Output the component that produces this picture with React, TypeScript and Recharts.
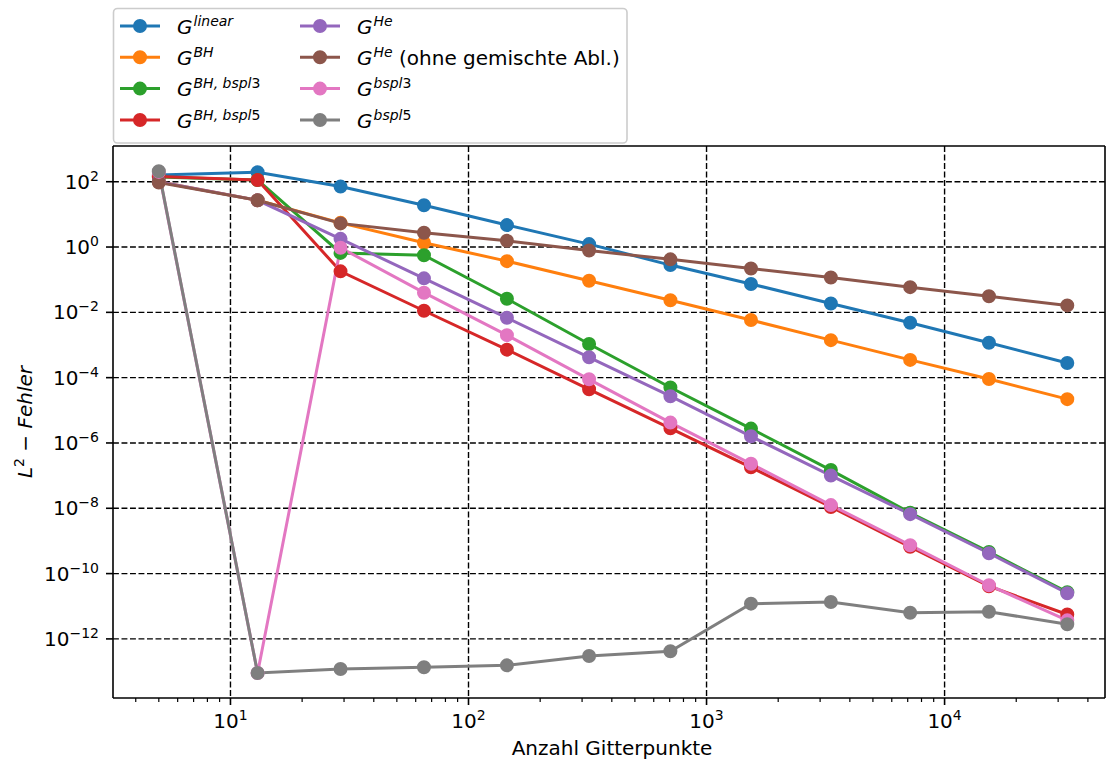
import React from 'react';
import { LineChart, Line, XAxis, YAxis, CartesianGrid } from 'recharts';

// ---------- data ----------
const gridPoints = [5, 13, 29, 65, 145, 321, 705, 1537, 3329, 7169, 15361, 32769];

const gLinear = [160, 195, 71, 19, 4.7, 1.23, 0.28, 0.074, 0.0186, 0.0048, 0.00117, 0.00028];
const gBH = [100, 27, 5.5, 1.35, 0.37, 0.093, 0.0234, 0.0058, 0.00141, 0.00035, 9.1e-5, 2.2e-5];
const gBHbspl3 = [140, 113, 0.66, 0.56, 0.026, 1.07e-3, 5.0e-5, 2.75e-6, 1.48e-7, 7.3e-9, 4.6e-10, 2.7e-11];
const gBHbspl5 = [145, 113, 0.18, 0.0112, 7.2e-4, 4.4e-5, 2.8e-6, 1.8e-7, 1.1e-8, 6.6e-10, 4.1e-11, 5.6e-12];
const gHe = [100, 27, 1.78, 0.11, 6.8e-3, 4.2e-4, 2.7e-5, 1.6e-6, 1.0e-7, 6.6e-9, 4.2e-10, 2.5e-11];
const gHeOhne = [95, 27, 5.3, 2.75, 1.55, 0.78, 0.42, 0.22, 0.117, 0.059, 0.031, 0.0163];
const gBspl3 = [200, 9e-14, 0.95, 0.04, 2.0e-3, 8.9e-5, 4.2e-6, 2.3e-7, 1.25e-8, 7.4e-10, 4.4e-11, 3.7e-12];
const gBspl5 = [210, 9e-14, 1.2e-13, 1.35e-13, 1.55e-13, 3.0e-13, 4.2e-13, 1.2e-11, 1.35e-11, 6.3e-12, 6.8e-12, 2.8e-12];

const seriesKeys = ['linear', 'bh', 'bhb3', 'bhb5', 'he', 'heOhne', 'bspl3', 'bspl5'];
const seriesValues = [gLinear, gBH, gBHbspl3, gBHbspl5, gHe, gHeOhne, gBspl3, gBspl5];
const legendSup = ['linear', 'BH', 'BH, bspl3', 'BH, bspl5', 'He', 'He', 'bspl3', 'bspl5'];
const legendSuffix = ['', '', '', '', '', ' (ohne gemischte Abl.)', '', ''];
const seriesColors = ['#1f77b4', '#ff7f0e', '#2ca02c', '#d62728', '#9467bd', '#8c564b', '#e377c2', '#7f7f7f'];

const xMajorTicks = [10, 100, 1000, 10000];
const xMinorTicks = [
  4, 5, 6, 7, 8, 9,
  20, 30, 40, 50, 60, 70, 80, 90,
  200, 300, 400, 500, 600, 700, 800, 900,
  2000, 3000, 4000, 5000, 6000, 7000, 8000, 9000,
  20000, 30000, 40000,
];
const yTicks = [1e2, 1e0, 1e-2, 1e-4, 1e-6, 1e-8, 1e-10, 1e-12];

const xDomain = [3.21, 47200];
const yDomain = [1.55e-14, 1241];

const data = gridPoints.map((x, i) => {
  const row: any = { x };
  seriesKeys.forEach((k, j) => {
    row[k] = seriesValues[j][i];
  });
  return row;
});

const FONT = 'DejaVu Sans';

const expText = (v: number) => {
  const e = Math.round(Math.log10(v));
  return e < 0 ? '\u2212' + String(-e) : String(e);
};

const XTick = (props: any) => {
  const { x, y, payload } = props;
  const v = payload.value;
  const major = xMajorTicks.includes(v);
  return (
    <g>
      <line x1={x} x2={x} y1={y} y2={y + (major ? 7 : 4)} stroke="#000" strokeWidth={major ? 1.6 : 1.2} />
      {major && (
        <text x={x} y={y + 29.5} textAnchor="middle" fontFamily={FONT} fontSize={20} fill="#000">
          10
          <tspan fontSize={14} dy={-8}>{expText(v)}</tspan>
        </text>
      )}
    </g>
  );
};

const YTick = (props: any) => {
  const { x, y, payload } = props;
  return (
    <g>
      <line x1={x - 7} x2={x} y1={y} y2={y} stroke="#000" strokeWidth={1.6} />
      <text x={x - 14} y={y + 7} textAnchor="end" fontFamily={FONT} fontSize={20} fill="#000">
        10
        <tspan fontSize={14} dy={-8}>{expText(payload.value)}</tspan>
      </text>
    </g>
  );
};

const XLabel = (props: any) => {
  const vb = props.viewBox || {};
  return (
    <text x={vb.x + vb.width / 2 + 3} y={vb.y + 57.3} textAnchor="middle" fontFamily={FONT} fontSize={20} fill="#000">
      Anzahl Gitterpunkte
    </text>
  );
};

const YLabel = (props: any) => {
  const vb = props.viewBox || {};
  const cx = 32;
  const cy = vb.y + vb.height / 2;
  return (
    <text
      x={cx}
      y={cy}
      transform={`rotate(-90, ${cx}, ${cy})`}
      textAnchor="middle"
      fontFamily={FONT}
      fontSize={20}
      fill="#000"
    >
      <tspan fontStyle="italic">L</tspan>
      <tspan fontSize={14} dy={-8}>2</tspan>
      <tspan dy={8}>{' \u2212 '}</tspan>
      <tspan fontStyle="italic">Fehler</tspan>
    </text>
  );
};

const supParts = (s: string) =>
  s.split(/(\d+)/).filter((p) => p.length > 0).map((p, i) =>
    /^\d+$/.test(p) ? (
      <tspan key={i}>{p}</tspan>
    ) : (
      <tspan key={i} fontStyle="italic">{p}</tspan>
    )
  );

const legendRowY = [26, 57.3, 88.6, 120];
const legendColX = [120, 300];

const LegendBox = () => (
  <svg
    width={1107}
    height={763}
    style={{ position: 'absolute', left: 0, top: 0, pointerEvents: 'none' }}
  >
    <rect x={113.5} y={8.5} width={513.5} height={134.5} rx={4} ry={4} fill="rgba(255,255,255,0.8)" stroke="#cccccc" strokeWidth={1.6} />
    {seriesKeys.map((k, i) => {
      const col = Math.floor(i / 4);
      const row = i % 4;
      const lx = legendColX[col];
      const ly = legendRowY[row];
      const c = seriesColors[i];
      return (
        <g key={k}>
          <line x1={lx} x2={lx + 40} y1={ly} y2={ly} stroke={c} strokeWidth={3} />
          <circle cx={lx + 20} cy={ly} r={6} fill={c} stroke={c} strokeWidth={2} />
          <text x={lx + 57} y={ly + 7.5} fontFamily={FONT} fontSize={20} fill="#000">
            <tspan fontStyle="italic">G</tspan>
            <tspan fontSize={14} dy={-8} dx={1}>{supParts(legendSup[i])}</tspan>
            <tspan dy={8}>{legendSuffix[i]}</tspan>
          </text>
        </g>
      );
    })}
  </svg>
);

export default function App() {
  return (
    <div style={{ position: 'absolute', left: 0, top: 0, width: 1107, height: 763, background: '#fff' }}>
      <LineChart width={1107} height={763} data={data} margin={{ top: 146, right: 2, bottom: 0, left: 0 }}>
        <CartesianGrid
          horizontalValues={yTicks}
          verticalValues={xMajorTicks}
          stroke="#000"
          strokeDasharray="5.9 2.6"
          strokeWidth={1.4}
        />
        {/* top and right spines of the axes frame */}
        <CartesianGrid
          horizontalValues={[yDomain[1]]}
          verticalValues={[xDomain[1]]}
          stroke="#000"
          strokeWidth={1.6}
        />
        <XAxis
          dataKey="x"
          type="number"
          scale="log"
          domain={xDomain}
          allowDataOverflow
          ticks={[...xMajorTicks, ...xMinorTicks]}
          interval={0}
          tickSize={0}
          tickMargin={0}
          tickLine={false}
          tick={<XTick />}
          axisLine={{ stroke: '#000', strokeWidth: 1.6 }}
          height={65}
          label={<XLabel />}
        />
        <YAxis
          type="number"
          scale="log"
          domain={yDomain}
          allowDataOverflow
          ticks={yTicks}
          interval={0}
          tickSize={0}
          tickMargin={0}
          tickLine={false}
          tick={<YTick />}
          axisLine={{ stroke: '#000', strokeWidth: 1.6 }}
          width={113}
          label={<YLabel />}
        />
        {seriesKeys.map((k, i) => (
          <Line
            key={k}
            dataKey={k}
            stroke={seriesColors[i]}
            strokeWidth={3}
            dot={{ r: 6, fill: seriesColors[i], stroke: seriesColors[i], strokeWidth: 2, fillOpacity: 1 }}
            activeDot={false}
            isAnimationActive={false}
          />
        ))}
      </LineChart>
      <LegendBox />
    </div>
  );
}
